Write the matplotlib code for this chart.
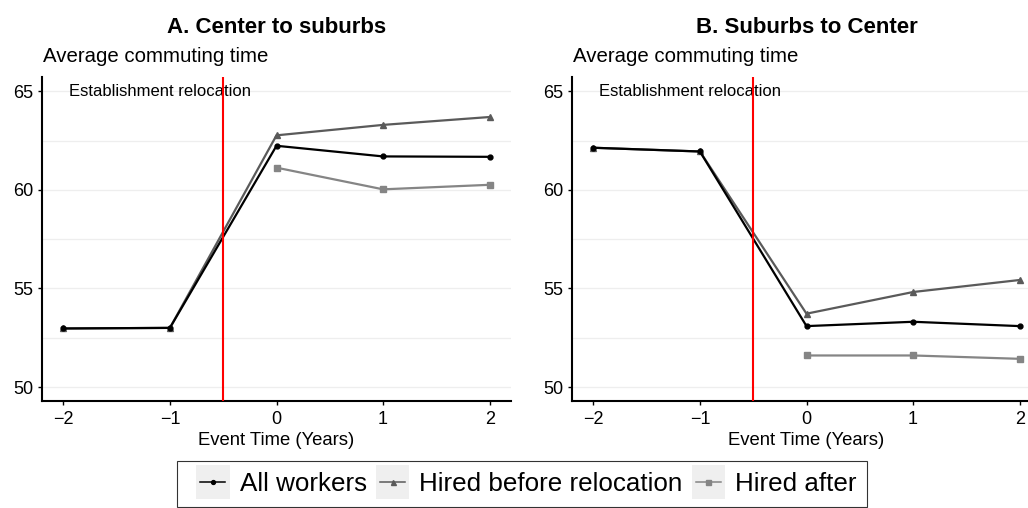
import matplotlib.pyplot as plt
from matplotlib.legend_handler import HandlerBase
from matplotlib.patches import Rectangle
from matplotlib.lines import Line2D

plt.rcParams['font.family'] = ['Liberation Sans', 'DejaVu Sans']

years = [-2, -1, 0, 1, 2]
years_after = [0, 1, 2]

# A. Center to suburbs
a_all = [52.97, 53.0, 62.24, 61.7, 61.68]
a_before = [52.97, 53.0, 62.77, 63.3, 63.7]
a_after = [61.13, 60.03, 60.26]

# B. Suburbs to Center
b_all = [62.14, 61.95, 53.09, 53.31, 53.09]
b_before = [62.14, 61.95, 53.72, 54.82, 55.43]
b_after = [51.6, 51.6, 51.43]

titles = ['A. Center to suburbs', 'B. Suburbs to Center']
labels = ['All workers', 'Hired before relocation', 'Hired after']

C_ALL = 'black'
C_BEFORE = '#5a5a5a'
C_AFTER = '#858585'


class KeyHandler(HandlerBase):
    """ggplot-like legend key: grey square with a short line and marker."""
    def create_artists(self, legend, orig_handle, xdescent, ydescent,
                       width, height, fontsize, trans):
        x0 = -xdescent + 6
        cy = -ydescent + height / 2
        rect = Rectangle((x0, cy - 12), 24, 24, facecolor='#EFEFEF',
                         edgecolor='none', transform=trans)
        c = orig_handle.get_color()
        line = Line2D([x0 + 3, x0 + 21], [cy, cy], color=c, lw=1.1, transform=trans)
        mk = Line2D([x0 + 12], [cy], color=c, marker=orig_handle.get_marker(),
                    ms=orig_handle.get_markersize() * 0.8, lw=0, transform=trans)
        return [rect, line, mk]


def draw_panel(ax, title, y_all, y_before, y_after):
    ax.plot(years, y_before, color=C_BEFORE, lw=1.6, marker='^', ms=4.5, zorder=3)
    ax.plot(years_after, y_after, color=C_AFTER, lw=1.6, marker='s', ms=4.5, zorder=3)
    ax.plot(years, y_all, color=C_ALL, lw=1.6, marker='o', ms=3.5, zorder=4)
    ax.axvline(-0.5, color='red', lw=1.5, zorder=5)
    ax.text(-1.95, 65, 'Establishment relocation', fontsize=12, va='center', ha='left')

    ax.set_xlim(-2.2, 2.2)
    ax.set_ylim(49.29, 65.73)
    ax.set_xticks(years)
    ax.set_xticklabels(['\u22122', '\u22121', '0', '1', '2'])
    ax.set_yticks([50, 55, 60, 65])
    ax.set_yticks([52.5, 57.5, 62.5], minor=True)
    ax.grid(True, axis='y', which='both', color='#EEEEEE', lw=0.9)
    ax.set_axisbelow(True)
    ax.tick_params(axis='y', which='minor', length=0)
    ax.tick_params(axis='both', which='major', labelsize=13, length=3,
                   width=1, color='black', pad=3)
    ax.tick_params(axis='x', which='major', pad=4)
    for s in ['top', 'right']:
        ax.spines[s].set_visible(False)
    for s in ['left', 'bottom']:
        ax.spines[s].set_linewidth(1.5)

    ax.set_xlabel('Event Time (Years)', fontsize=13.3, labelpad=3)
    ax.text(0.002, 1.046, 'Average commuting time', transform=ax.transAxes,
            ha='left', va='baseline', fontsize=14.7)
    ax.text(0.5, 1.136, title, transform=ax.transAxes, ha='center', va='baseline',
            fontsize=16, fontweight='bold')


fig = plt.figure(figsize=(10.28, 5.08), dpi=100)
ax1 = fig.add_axes([42 / 1028, 107 / 508, 469 / 1028, 324 / 508])
ax2 = fig.add_axes([572 / 1028, 107 / 508, 469 / 1028, 324 / 508])

draw_panel(ax1, titles[0], a_all, a_before, a_after)
draw_panel(ax2, titles[1], b_all, b_before, b_after)

handles = [
    Line2D([], [], color=C_ALL, lw=1.6, marker='o', ms=3.5),
    Line2D([], [], color=C_BEFORE, lw=1.6, marker='^', ms=4.5),
    Line2D([], [], color=C_AFTER, lw=1.6, marker='s', ms=4.5),
]
leg = fig.legend(handles, labels, loc='center', bbox_to_anchor=(0.508, 0.0472),
                 ncol=3, fontsize=18.7, frameon=True, fancybox=False,
                 edgecolor='black', handlelength=30 / 18.7, handletextpad=0.385,
                 columnspacing=0.03, borderpad=0.41, borderaxespad=0,
                 handler_map={Line2D: KeyHandler()})
leg.get_frame().set_linewidth(0.8)

fig.savefig('out.png', dpi=100)
